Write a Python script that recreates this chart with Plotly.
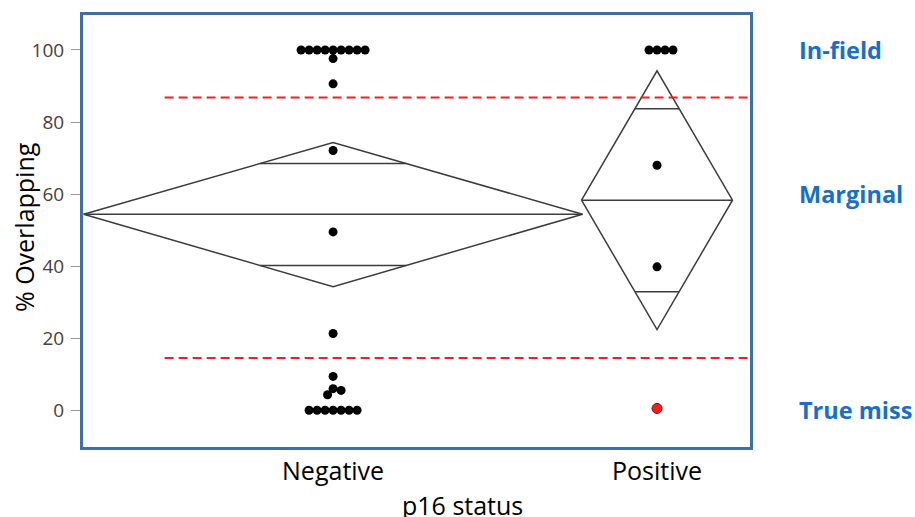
import plotly.graph_objects as go

# ---------------- data ----------------
categories = ["Negative", "Positive"]
negative_values = [100, 100, 100, 100, 100, 100, 100, 100, 100,
                   97.6, 90.6, 72.1, 49.5, 21.3, 9.4, 6.0, 5.5, 4.3,
                   0, 0, 0, 0, 0, 0, 0]
positive_values = [100, 100, 100, 100, 68.0, 39.8]
positive_highlight = [0.5]
group_means = [54.4, 58.3]
ci_lower = [34.3, 22.4]
ci_upper = [74.3, 94.2]
threshold_values = [86.8, 14.5]
zone_labels = ["In-field", "Marginal", "True miss"]
zone_label_y = [100, 60, 0]
y_tick_values = [0, 20, 40, 60, 80, 100]

# ---------------- layout constants ----------------
W, H = 915, 517
L, R, T, B = 83, 165, 13, 70
X_RANGE = [-0.772, 1.287]
Y_RANGE = [-10.2, 109.7]
plot_w = W - L - R
plot_h = H - T - B
PX_X = plot_w / (X_RANGE[1] - X_RANGE[0])
PX_Y = plot_h / (Y_RANGE[1] - Y_RANGE[0])
DIAMOND_HALF = [0.77, 0.233]
DOT = 8.0


def swarm(vals, center):
    """simple beeswarm: offsets so dots do not overlap (in data units)."""
    order = sorted(range(len(vals)), key=lambda i: -vals[i])
    placed = []
    xs = [0.0] * len(vals)
    cands = [0.0]
    for k in range(1, 200):
        cands += [k * 0.5, -k * 0.5]
    for i in order:
        py = vals[i] * PX_Y
        for c in cands:
            if all((c - px) ** 2 + (py - qy) ** 2 >= DOT ** 2 - 1e-6 for px, qy in placed):
                placed.append((c, py))
                xs[i] = center + c / PX_X
                break
    return xs


fig = go.Figure()

LINE_COL = "#3c3c3c"
# means diamonds + mean lines + overlap marks
for gi in range(len(categories)):
    c = gi
    hw = DIAMOND_HALF[gi]
    m, lo, hi = group_means[gi], ci_lower[gi], ci_upper[gi]
    fig.add_trace(go.Scatter(
        x=[c - hw, c, c + hw, c, c - hw],
        y=[m, hi, m, lo, m],
        mode="lines", line=dict(color=LINE_COL, width=1.5),
        hoverinfo="skip", showlegend=False))
    fig.add_trace(go.Scatter(
        x=[c - hw, c + hw], y=[m, m], mode="lines",
        line=dict(color=LINE_COL, width=1.5), hoverinfo="skip", showlegend=False))
    for edge in (hi, lo):
        d = (edge - m) / (2 ** 0.5)
        frac = 1 - abs(d) / abs(edge - m)
        fig.add_trace(go.Scatter(
            x=[c - hw * frac, c + hw * frac], y=[m + d, m + d], mode="lines",
            line=dict(color=LINE_COL, width=1.5), hoverinfo="skip", showlegend=False))

# points
neg_x = swarm(negative_values, 0)
pos_all = positive_values + positive_highlight
pos_x_all = swarm(pos_all, 1)
fig.add_trace(go.Scatter(x=neg_x, y=negative_values, mode="markers",
                         marker=dict(color="black", size=9), showlegend=False))
fig.add_trace(go.Scatter(x=pos_x_all[:len(positive_values)], y=positive_values, mode="markers",
                         marker=dict(color="black", size=9), showlegend=False))
fig.add_trace(go.Scatter(x=pos_x_all[len(positive_values):], y=positive_highlight, mode="markers",
                         marker=dict(color="#ff1a1a", size=10,
                                     line=dict(color="#5a1a1a", width=1)),
                         showlegend=False))

# threshold lines
for tv in threshold_values:
    fig.add_shape(type="line", xref="x", yref="y",
                  x0=-0.52, x1=X_RANGE[1], y0=tv, y1=tv,
                  line=dict(color="#ff1a1a", width=2, dash="9px,5px"))

# zone labels
for lab, yv in zip(zone_labels, zone_label_y):
    fig.add_annotation(text=lab, xref="paper", yref="y",
                       x=(797 - L) / plot_w, y=yv, xanchor="left", yanchor="middle",
                       showarrow=False,
                       font=dict(family="Open Sans", size=23.5, color="#1a6ec8", weight="bold"))

# axis titles
fig.add_annotation(text="p16 status", xref="paper", yref="paper",
                   x=(462 - L) / plot_w, y=-(505 - (T + plot_h)) / plot_h,
                   xanchor="center", yanchor="middle", showarrow=False,
                   font=dict(family="Open Sans", size=25, color="black"))
fig.add_annotation(text="% Overlapping", xref="paper", yref="paper",
                   x=(24 - L) / plot_w, y=1 - (226 - T) / plot_h, textangle=-90,
                   xanchor="center", yanchor="middle", showarrow=False,
                   font=dict(family="Open Sans", size=25, color="black"))

AX_COL = "#3f6fa6"
fig.update_xaxes(range=X_RANGE, tickvals=[0, 1], ticktext=categories,
                 showgrid=False, zeroline=False, ticks="",
                 showline=True, mirror=True, linecolor=AX_COL, linewidth=3,
                 tickfont=dict(family="Open Sans", size=25, color="black"))
fig.update_yaxes(range=Y_RANGE, tickvals=y_tick_values, showgrid=False, zeroline=False,
                 ticks="outside", ticklen=9, tickcolor="#999999", tickwidth=1,
                 ticklabelstandoff=3,
                 showline=True, mirror=True, linecolor=AX_COL, linewidth=3,
                 tickfont=dict(family="Open Sans", size=19, color="#474040"))
fig.update_layout(width=W, height=H, margin=dict(l=L, r=R, t=T, b=B),
                  plot_bgcolor="white", paper_bgcolor="white", showlegend=False)

fig.write_html("out.html", config={"displayModeBar": False},
               post_script="document.body.style.margin='0';document.body.style.overflow='hidden';")
